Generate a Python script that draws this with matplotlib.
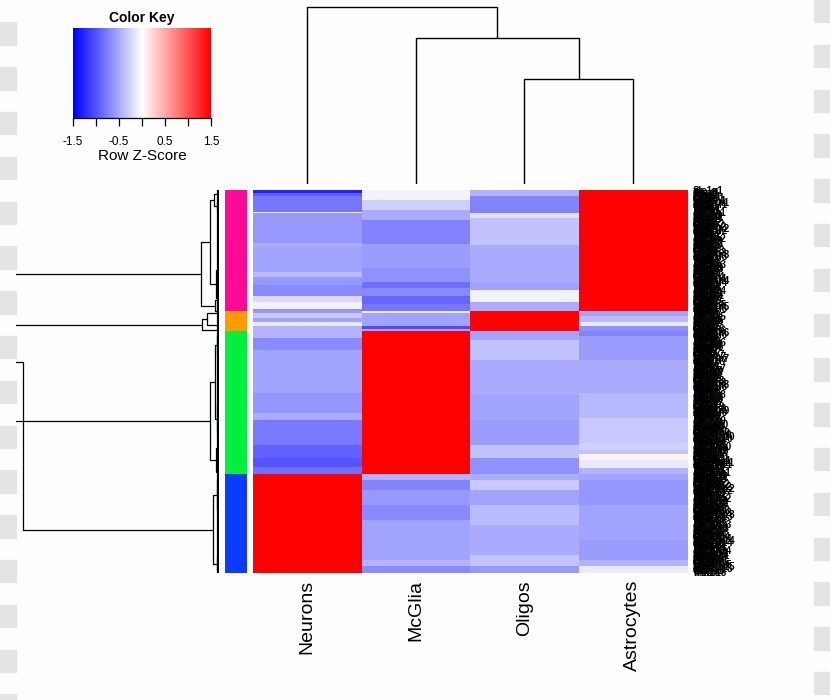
import numpy as np
import matplotlib.pyplot as plt
from matplotlib.colors import LinearSegmentedColormap, ListedColormap
from matplotlib.patches import Rectangle

plt.rcParams['font.family'] = ['Liberation Sans', 'DejaVu Sans']

# ---- data -------------------------------------------------------------
cell_types = ['Neurons', 'McGlia', 'Oligos', 'Astrocytes']
n_genes = 383
gene_stems = ['Slc1a', 'Gfap', 'Aqp', 'Mbp', 'Plp', 'Snap', 'Syt', 'Gad', 'Cx3cr',
              'Tmem', 'Olig', 'Sox', 'Pdgfra', 'Aldh1l', 'Gja', 'Cldn', 'Mog', 'Mal',
              'Trem', 'P2ry', 'Kcnj', 'Rbfox', 'Nefl', 'Hexb', 'Csf1r', 'Ermn']
gene_names = ['%s%d' % (gene_stems[i % len(gene_stems)], i // len(gene_stems) + 1)
              for i in range(n_genes)]

# row z-scores, given as bands: first row of each band and its value
neurons_starts = [0, 3, 6, 22, 23, 53, 57, 82, 87, 95, 106, 112, 119,
                  121, 123, 128, 132, 136,
                  141, 148, 160, 203, 223, 230, 255, 268, 277,
                  284]
neurons_vals = [-1.3, -0.95, -0.8, -0.1, -0.6, -0.5, -0.55, -0.4, -0.6, -0.68, -0.22, -0.08, -0.65,
                -0.6, -0.32, -0.55, -0.12, -0.45,
                -0.45, -0.68, -0.55, -0.62, -0.5, -0.78, -0.92, -1.0, -0.85,
                1.5]

mcglia_starts = [0, 1, 10, 20, 30, 54, 78, 92, 98, 106, 114,
                 121, 123, 136, 139,
                 141,
                 284, 290, 300, 315, 330, 370, 376]
mcglia_vals = [0.1, -0.06, -0.28, -0.5, -0.72, -0.58, -0.65, -0.85, -0.68, -0.9, -0.8,
               -0.1, -0.55, -1.05, -0.55,
               1.5,
               -0.45, -0.72, -0.6, -0.68, -0.55, -0.45, -0.68]

oligos_starts = [0, 6, 23, 28, 55, 92, 100, 112,
                 121,
                 141, 150, 170, 205, 230, 255, 268,
                 284, 290, 300, 315, 335, 365, 376]
oligos_vals = [-0.45, -0.72, -0.18, -0.36, -0.5, -0.55, -0.08, -0.5,
               1.5,
               -0.55, -0.36, -0.5, -0.55, -0.58, -0.36, -0.65,
               -0.5, -0.32, -0.55, -0.4, -0.5, -0.36, -0.6]

astro_starts = [0,
                121, 126, 132, 136,
                141, 146, 170, 203, 228, 253, 260, 264, 270, 278,
                284, 290, 315, 350, 370, 376]
astro_vals = [1.5,
              -0.55, -0.4, -0.12, -0.65,
              -0.72, -0.58, -0.5, -0.42, -0.32, -0.28, -0.36, 0.08, -0.12, -0.45,
              -0.55, -0.62, -0.55, -0.58, -0.45, -0.12]

# gene clusters (row side colours)
group_bounds = [0, 121, 141, 284, 383]
group_colors = ['#ff0a96', '#ff9a00', '#00f03c', '#0a3cff']

# row dendrogram links: positions (rows) and heights
row_icoord = [
    [4, 4, 16, 16], [12, 12, 20, 20], [80, 80, 108, 108], [110, 110, 121, 121],
    [10, 10, 94, 94], [52, 52, 115.5, 115.5],
    [123, 123, 135, 135], [129, 129, 140, 140],
    [146, 146, 164, 164], [215, 215, 243, 243], [258, 258, 282, 282],
    [155, 155, 229, 229], [192, 192, 270, 270],
    [290, 290, 320, 320], [367, 367, 381, 381], [305, 305, 374, 374],
    [83.75, 83.75, 134.5, 134.5], [172, 172, 340, 340], [109, 109, 231, 231],
]
row_dcoord = [
    [1, 5, 5, 2], [0.5, 2, 2, 0.5], [2, 3, 3, 1], [1, 4, 4, 1],
    [5, 9, 9, 3], [9, 18, 18, 4],
    [2, 12, 12, 1], [12, 17, 17, 2],
    [1, 2, 2, 1], [1, 2, 2, 1], [1, 3, 3, 1],
    [2, 4, 4, 2], [4, 9, 9, 3],
    [1, 2, 2, 1], [1, 2, 2, 1], [2, 6, 6, 2],
    [18, 230, 230, 17], [230, 196, 196, 6], [230, 260, 260, 9],
]

# column dendrogram links
col_icoord = [[2.5, 2.5, 3.5, 3.5], [1.5, 1.5, 3.0, 3.0], [0.5, 0.5, 2.25, 2.25]]
col_dcoord = [[0, 105, 105, 0], [0, 146, 146, 105], [0, 177, 177, 146]]


def expand(starts, vals):
    lens = np.diff(starts + [n_genes])
    return np.repeat(vals, lens)


mat = np.column_stack([expand(neurons_starts, neurons_vals),
                       expand(mcglia_starts, mcglia_vals),
                       expand(oligos_starts, oligos_vals),
                       expand(astro_starts, astro_vals)])

group_idx = np.repeat(np.arange(len(group_colors)), np.diff(group_bounds))

# ---- figure -----------------------------------------------------------
W, H = 830, 700
fig = plt.figure(figsize=(W / 100, H / 100), dpi=100, facecolor='#fdfdfd')


def px_axes(x0, y0, x1, y1):
    return fig.add_axes([x0 / W, 1 - y1 / H, (x1 - x0) / W, (y1 - y0) / H])


# checkered strips at the edges
for k in range(17):
    fig.patches.append(Rectangle((0, 1 - (22.4 + 44.8 * k + 22.4) / H), 16 / W, 22.4 / H,
                                 transform=fig.transFigure, color='#e4e4e4', zorder=0))
    fig.patches.append(Rectangle((814 / W, 1 - (44.8 * k + 22.4) / H), 16 / W, 22.4 / H,
                                 transform=fig.transFigure, color='#e4e4e4', zorder=0))

cmap = LinearSegmentedColormap.from_list('bluered', ['#0000ff', '#ffffff', '#ff0000'])

# heatmap
ax = px_axes(253, 190, 687, 573)
ax.imshow(mat, cmap=cmap, vmin=-1.5, vmax=1.5, aspect='auto', interpolation='nearest',
          extent=(0, 4, n_genes, 0))
ax.set_xlim(0, 4)
ax.set_ylim(n_genes, 0)
ax.set_xticks(np.arange(4) + 0.5)
ax.set_xticklabels(cell_types, rotation=90, fontsize=14)
ax.set_yticks(np.arange(n_genes) + 0.5)
ax.set_yticklabels(gene_names, fontsize=7, fontweight='bold')
ax.yaxis.tick_right()
ax.tick_params(axis='x', length=0, pad=5)
ax.tick_params(axis='y', length=0, pad=4.3)
for s in ax.spines.values():
    s.set_visible(False)

# row side colours
ax_side = px_axes(225, 190, 247, 573)
ax_side.imshow(group_idx[:, None], cmap=ListedColormap(group_colors), aspect='auto',
               interpolation='nearest', extent=(0, 1, n_genes, 0))
ax_side.axis('off')

# row dendrogram
ax_rd = px_axes(16, 190, 219, 573)
for ic, dc in zip(row_icoord, row_dcoord):
    ax_rd.plot(dc, ic, color='black', lw=0.9, solid_capstyle='butt')
ax_rd.plot([0.6, 0.6], [group_bounds[0], group_bounds[-1]], color='black', lw=1.6)
ax_rd.set_xlim(203, 0)
ax_rd.set_ylim(n_genes, 0)
ax_rd.axis('off')

# column dendrogram
ax_cd = px_axes(253, 0, 687, 184)
for ic, dc in zip(col_icoord, col_dcoord):
    ax_cd.plot(ic, dc, color='black', lw=1.0, solid_capstyle='butt')
ax_cd.set_xlim(0, 4)
ax_cd.set_ylim(0, 184)
ax_cd.axis('off')

# colour key
ax_key = px_axes(73, 28, 211, 118)
grad = np.linspace(-1.5, 1.5, 300)[None, :]
ax_key.imshow(grad, cmap=cmap, vmin=-1.5, vmax=1.5, aspect='auto',
              extent=(-1.5, 1.5, 0, 1))
ax_key.set_xlim(-1.5, 1.5)
ax_key.set_ylim(0, 1)
key_ticks = [-1.5, -1.0, -0.5, 0.0, 0.5, 1.0, 1.5]
ax_key.set_xticks(key_ticks)
ax_key.set_xticklabels(['-1.5', '', '-0.5', '', '0.5', '', '1.5'], fontsize=8.5)
ax_key.tick_params(axis='x', direction='out', length=6, width=0.9, pad=7)
ax_key.set_yticks([])
for side in ['top', 'left', 'right']:
    ax_key.spines[side].set_visible(False)
ax_key.spines['bottom'].set_linewidth(0.9)
ax_key.set_xlabel('Row Z-Score', fontsize=11, labelpad=1)
ax_key.set_title('Color Key', fontsize=10, fontweight='bold', pad=4)

fig.savefig('out.png', dpi=100, facecolor=fig.get_facecolor())
